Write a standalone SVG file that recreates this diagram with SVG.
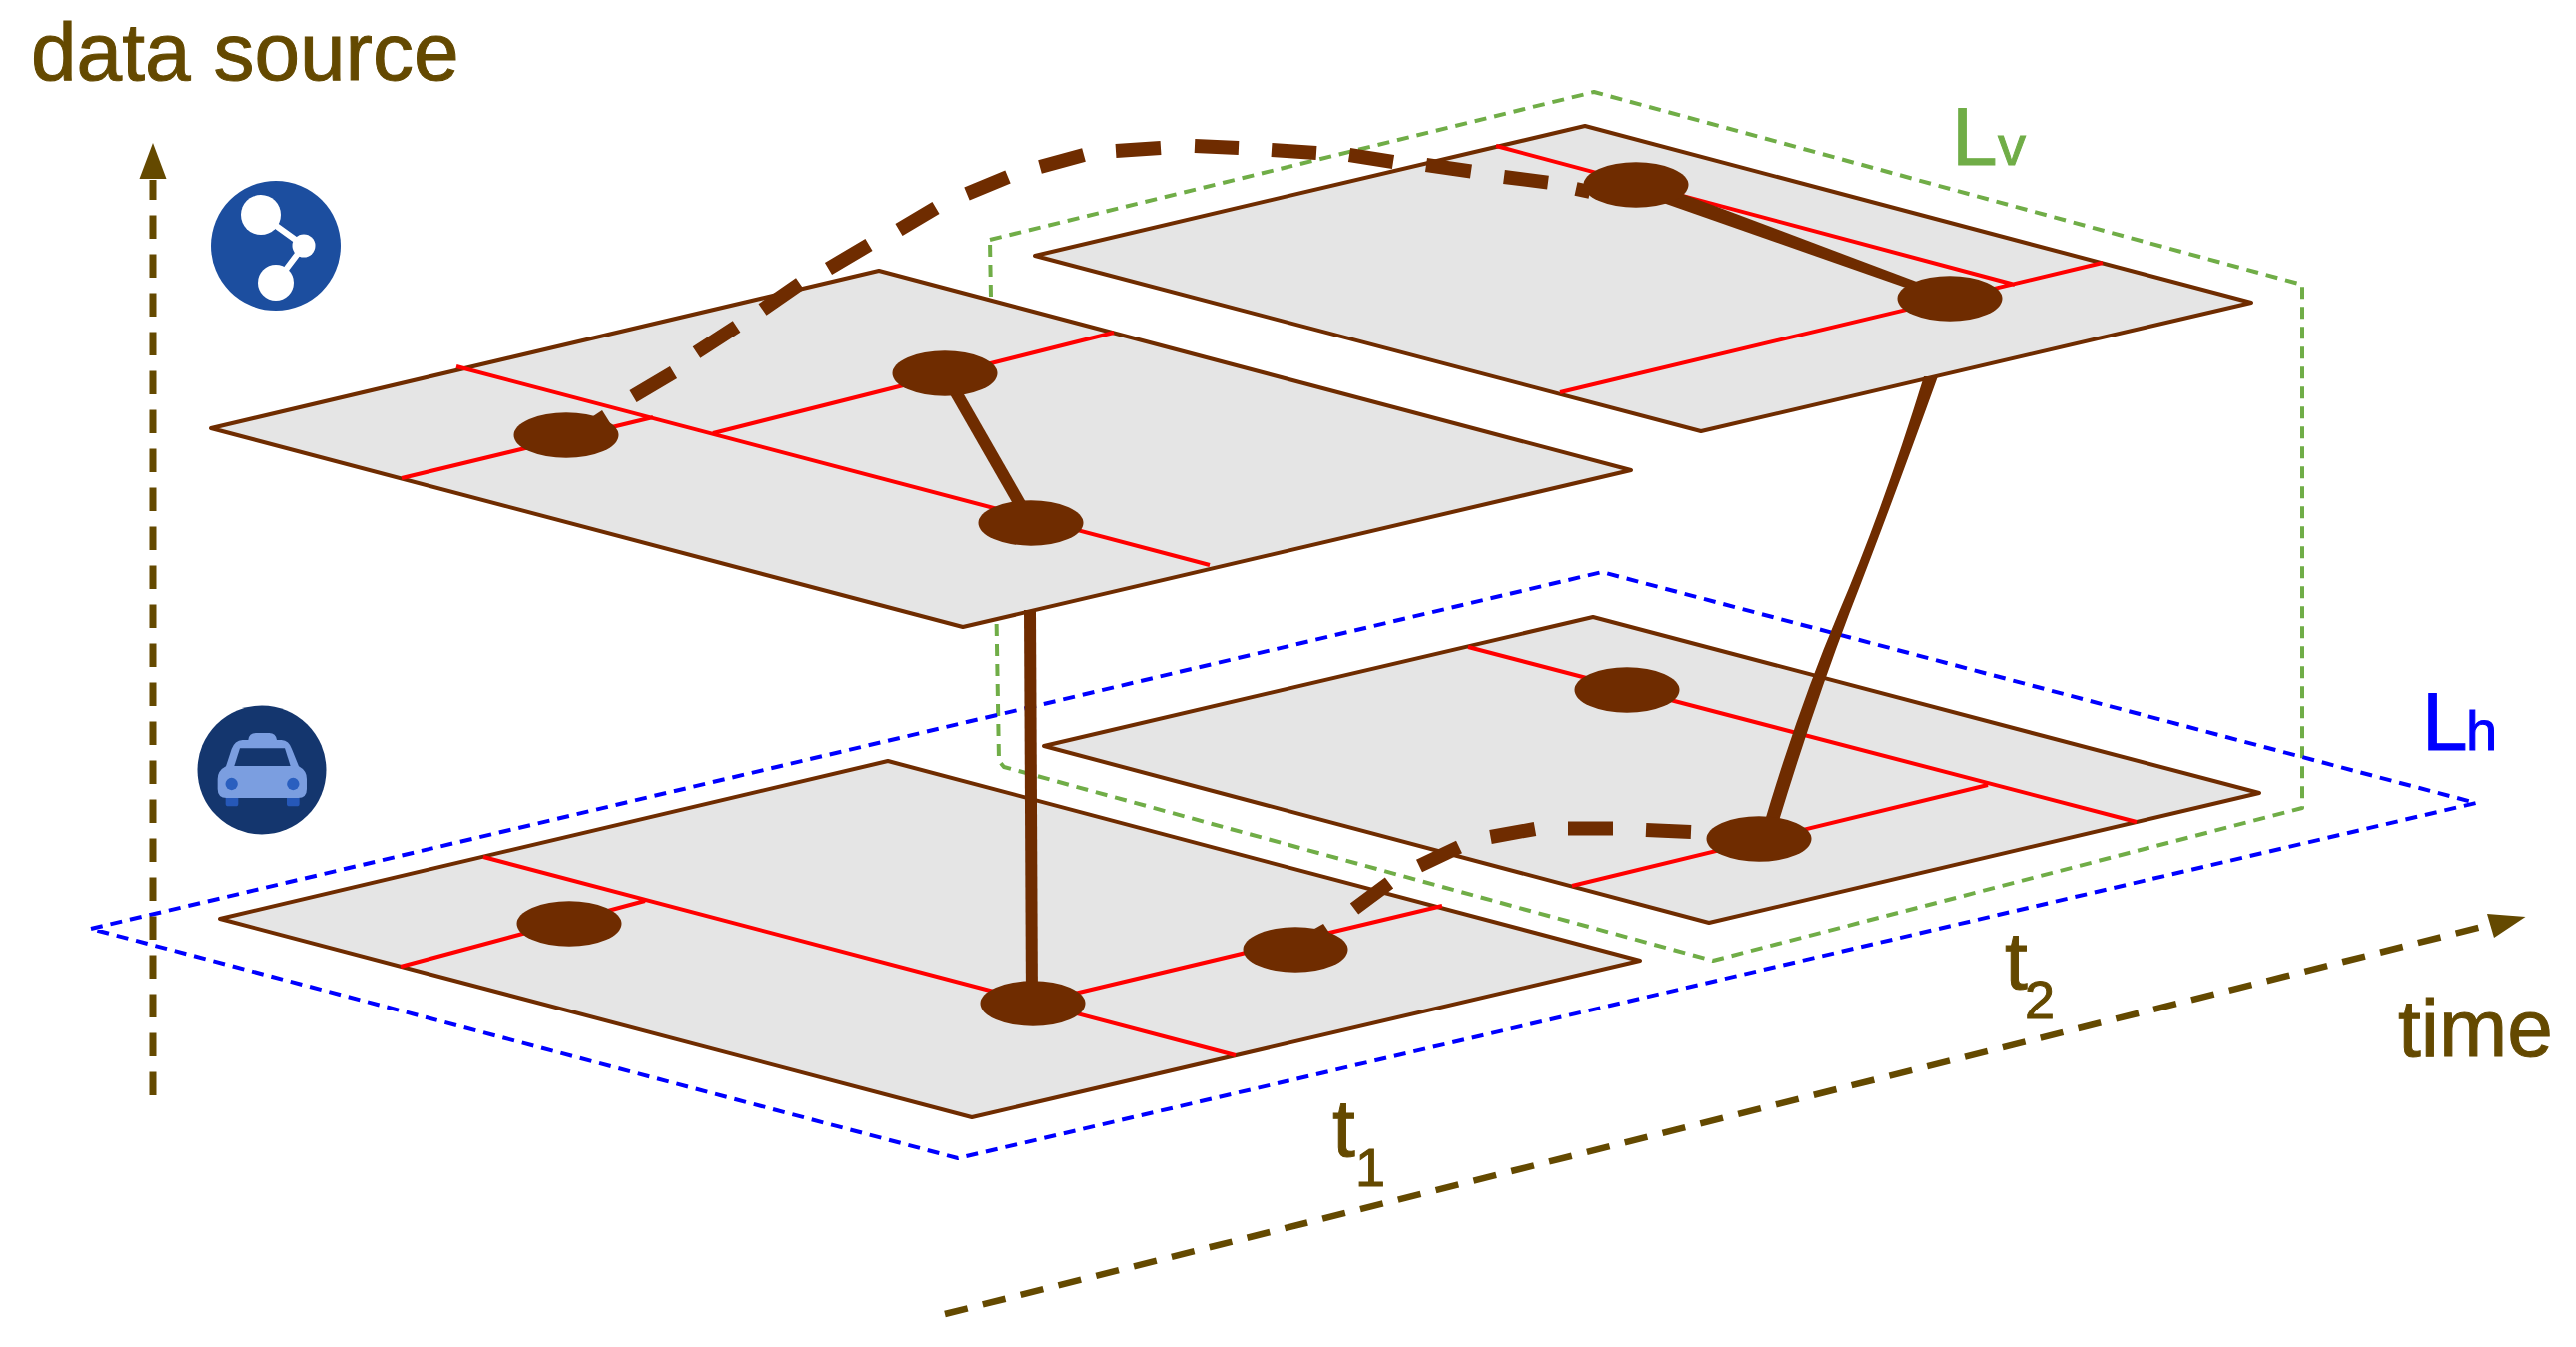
<svg xmlns="http://www.w3.org/2000/svg" width="2579" height="1349" viewBox="0 0 2579 1349">
<style>
.plane{fill:#e5e5e5;stroke:#6f2c00;stroke-width:4;stroke-linejoin:round}
.road{fill:none;stroke:#f00;stroke-width:4}
.spot{fill:#6f2c00}
.link{fill:none;stroke:#6f2c00;stroke-width:12}
.flow{fill:none;stroke:#6f2c00;stroke-width:14}
.axis{fill:none;stroke:#644900;stroke-width:7;stroke-dasharray:23.4 15.6}
.axis2{stroke-width:6.500}
.head{fill:#644900}
.frame{fill:none;stroke-width:4;stroke-dasharray:12 8;stroke-linejoin:round}
text{font-family:"Liberation Sans",Arial,sans-serif;font-size:82px;fill:#644900;stroke:#644900;stroke-width:1}
.sub{font-size:54px}
.sm{font-size:56px}
.g{fill:#70ad47;stroke:#70ad47}
.b{fill:#00f;stroke:#00f}
</style>
<rect width="2579" height="1349" fill="#fff"/>
<g id="layer-v"><polygon class="frame" stroke="#70ad47" points="991,240 1596,92 2305,285 2305,809 1715,962 1005,768 1000,762"/></g>
<g id="layer-h"><polygon class="frame" stroke="#00f" points="91,930 1604,573 2479,804 959,1160"/></g>
<g id="axis-source"><path class="axis" d="M153,1097V180"/><polygon class="head" points="153,143 166.500,179 139.500,179"/></g>
<g id="axis-time"><path class="axis axis2" d="M946,1316L2497,925"/><polygon class="head" points="2528.500,918 2490,915 2497,939"/></g>
<g id="plane-lower-left"><polygon class="plane" points="220,920 889,762 1642,962 973,1119"/>
<path class="road" d="M484,858L1237,1057M401,968L646,902M1034,1005L1444,907"/></g>
<g id="plane-lower-right"><polygon class="plane" points="1045,747 1595,618 2262,794 1711,924"/>
<path class="road" d="M1470,648L2139,823M1574,887L1990,786"/></g>
<g id="plane-upper-left"><polygon class="plane" points="211,429 880,271 1633,471 964,628"/>
<path class="road" d="M457,367L1211,566M402,479L654,418M714,434L1115,333"/></g>
<g id="plane-upper-right"><polygon class="plane" points="1036,256 1587,126 2254,303 1703,432"/>
<path class="road" d="M1498,146L2017,285M1562,393L2105,263"/></g>
<g id="connectors">
<path class="link" d="M946,374L1032,524"/>
<path class="spot" d="M1638,176.500L1952,294.500V303.500L1638,193.500Z"/>
<path class="link" d="M1031,611L1033,1005"/>
<path class="spot" d="M1926,377H1940Q1892,510 1851.500,614Q1815,710 1780,825H1766Q1800,710 1840.500,614Q1885,510 1926,377Z"/>
<path class="flow" d="M634,397L674.500,373M697.500,353L737.600,327M763.500,310L801,284M829.500,269L870,245M900,230L937,208M968,194L1009,177M1041,167L1085,155M1117,151L1162,148M1196,146L1240,148M1273,150L1318,153M1351,155L1395,162M1428,165L1473,171.500M1506,177L1550,182.600M1578,189L1592,192"/>
<polygon class="spot" points="594,417 603,411 613,427"/>
<path class="flow" d="M1356,910L1391,884M1421,867L1461,848M1492.500,838L1537,830M1570,829.600L1615,829.600M1648,831L1693,833"/>
<polygon class="spot" points="1316,930 1325,925 1333,937"/>
</g>
<g id="node-1"><ellipse class="spot" cx="567" cy="436" rx="52.500" ry="22.700"/></g>
<g id="node-2"><ellipse class="spot" cx="946" cy="374" rx="52.500" ry="22.700"/></g>
<g id="node-3"><ellipse class="spot" cx="1032" cy="524" rx="52.500" ry="22.700"/></g>
<g id="node-4"><ellipse class="spot" cx="1638" cy="185" rx="52.500" ry="22.700"/></g>
<g id="node-5"><ellipse class="spot" cx="1952" cy="299" rx="52.500" ry="22.700"/></g>
<g id="node-6"><ellipse class="spot" cx="570" cy="925" rx="52.500" ry="22.700"/></g>
<g id="node-7"><ellipse class="spot" cx="1034" cy="1005" rx="52.500" ry="22.700"/></g>
<g id="node-8"><ellipse class="spot" cx="1297" cy="951" rx="52.500" ry="22.700"/></g>
<g id="node-9"><ellipse class="spot" cx="1629" cy="691" rx="52.500" ry="22.700"/></g>
<g id="node-10"><ellipse class="spot" cx="1761" cy="840" rx="52.500" ry="22.700"/></g>
<g id="icon-social">
<circle cx="276" cy="246" r="65" fill="#1c4e9f"/>
<path d="M261,215L304,246L276,283" fill="none" stroke="#fff" stroke-width="6"/>
<circle cx="261" cy="215" r="20" fill="#fff"/><circle cx="304" cy="246" r="11.500" fill="#fff"/><circle cx="276" cy="283" r="18" fill="#fff"/>
</g>
<g id="icon-taxi">
<circle cx="262" cy="771" r="64.500" fill="#14366e"/>
<g transform="translate(180,690) scale(.3333)">
<rect x="137" y="315" width="38" height="37" rx="8" fill="#2658b8"/><rect x="321" y="315" width="38" height="37" rx="8" fill="#2658b8"/>
<path d="M205,153Q207,132 228,132H268Q288,132 291,153H305Q328,155 336,180L357,232Q381,245 381,270V300Q381,327 355,327H140Q113,327 113,300V270Q113,245 138,232L155,180Q164,155 188,153Z" fill="#7b9ee0"/>
<path d="M180,178H315L332,231H163Z" fill="#14366e"/>
<circle cx="155" cy="285" r="18.500" fill="#2a5fbf"/><circle cx="340" cy="285" r="18.500" fill="#2a5fbf"/>
</g></g>
<text x="31" y="80">data source</text>
<text x="2401" y="1058">time</text>
<text x="1334" y="1158">t</text><text class="sub" x="1357" y="1188">1</text>
<text x="2007" y="990">t</text><text class="sub" x="2027" y="1020">2</text>
<text class="g" x="1954" y="165">L</text><text class="g sm" x="2000" y="165">v</text>
<text class="b" x="2425" y="751">L</text><text class="b sm" x="2469" y="751">h</text>
</svg>
